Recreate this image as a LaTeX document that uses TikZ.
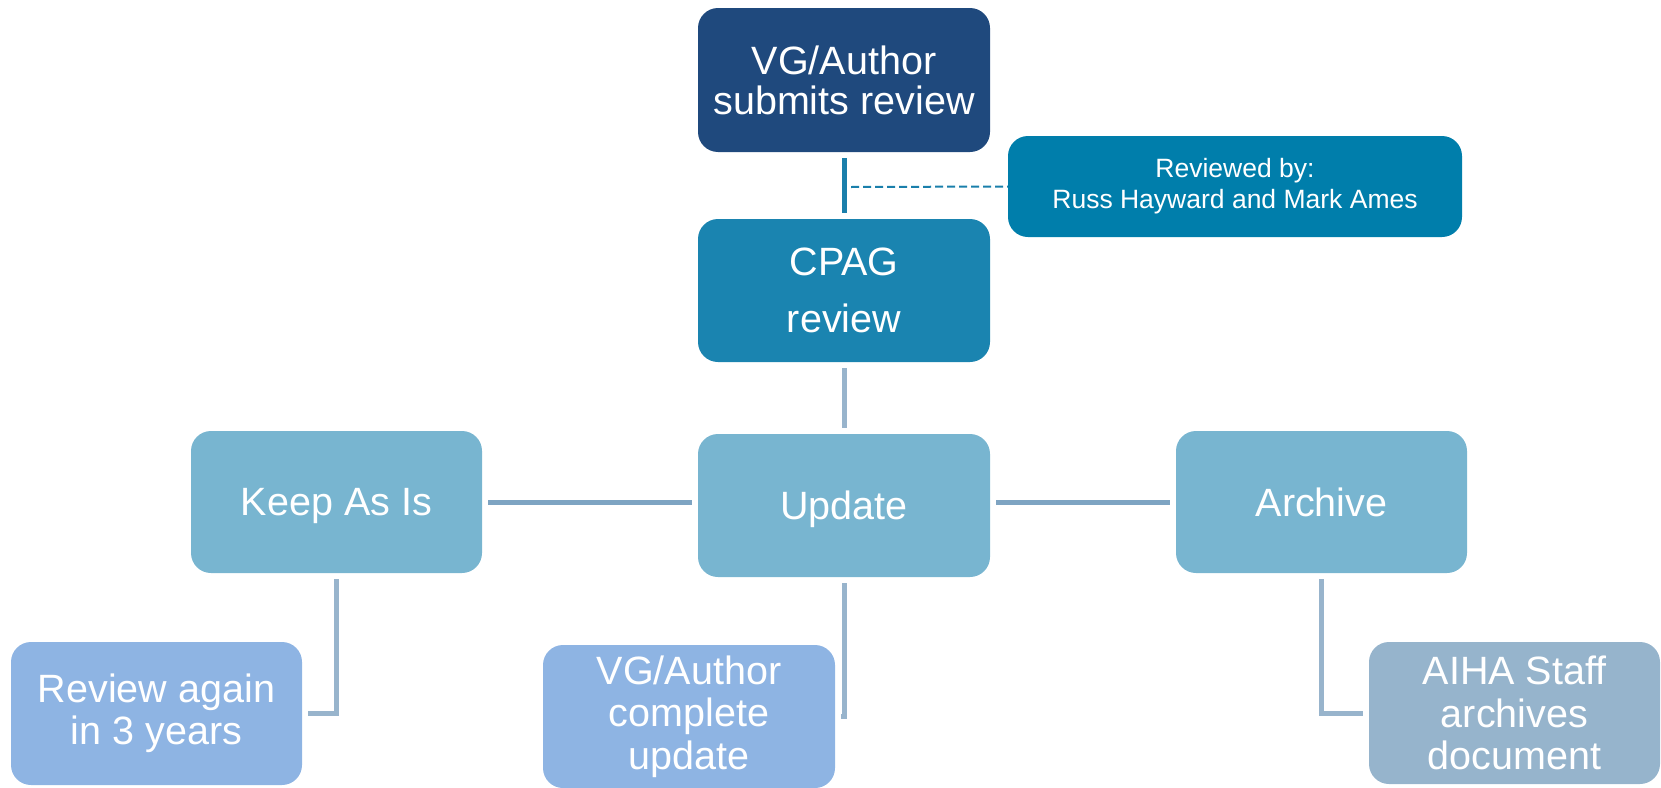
\documentclass[tikz,border=0pt]{standalone}
\usepackage{fontspec}
\setmainfont{Liberation Sans}
\definecolor{navy}{RGB}{31,73,125}
\definecolor{cpagc}{RGB}{26,132,176}
\definecolor{revc}{RGB}{0,126,171}
\definecolor{midc}{RGB}{120,181,208}
\definecolor{lowc}{RGB}{142,180,227}
\definecolor{aihac}{RGB}{150,180,204}
\definecolor{hline}{RGB}{126,164,194}
\definecolor{vline}{RGB}{152,180,204}
\definecolor{tealline}{RGB}{26,127,171}
\tikzset{
  box/.style={rounded corners=20pt, inner sep=0pt, text=white, align=center,
    font=\fontsize{39.5}{42.5}\selectfont},
  oneline/.style={text depth=0pt},
  conn/.style={line width=5pt, shorten <=6pt, shorten >=6pt},
}
\begin{document}
\begin{tikzpicture}[x=1pt,y=-1pt]
\useasboundingbox (0,0) rectangle (1661,787);
\node[box, fill=navy, minimum width=292pt, minimum height=144pt,
  font=\fontsize{39.5}{40}\selectfont] (top) at (844,80) {VG/Author\\submits review};
\node[box, fill=cpagc, minimum width=292pt, minimum height=143pt,
  font=\fontsize{39.5}{57}\selectfont] (cpag) at (844,290.5) {CPAG\\review};
\node[box, fill=revc, minimum width=454pt, minimum height=101pt,
  font=\fontsize{26.5}{31}\selectfont] (rev) at (1235,186.5) {Reviewed by:\\Russ Hayward and Mark Ames};
\node[box, oneline, fill=midc, minimum width=291pt, minimum height=142pt] (keep) at (336.5,502) {Keep As Is};
\node[box, oneline, fill=midc, minimum width=292pt, minimum height=143pt] (upd) at (844,505.5) {Update};
\node[box, oneline, fill=midc, minimum width=291pt, minimum height=142pt] (arch) at (1321.5,502) {Archive};
\node[box, fill=lowc, minimum width=291pt, minimum height=143pt] (again) at (156.5,713.5) {Review again\\in 3 years};
\node[box, fill=lowc, minimum width=292pt, minimum height=143pt] (vgc) at (689,716.5) {VG/Author\\complete\\update};
\node[box, fill=aihac, minimum width=291pt, minimum height=142pt] (aiha) at (1514.5,713) {AIHA Staff\\archives\\document};
% connectors
\draw[conn, tealline] (top.south) -- (cpag.north);
\coordinate (dashstart) at (851,187);
\draw[tealline, line width=2pt, dash pattern=on 8pt off 4pt] (dashstart) -- (rev.west);
\draw[conn, vline] (cpag.south) -- (upd.north);
\draw[conn, hline] (keep.east) -- (keep.east -| upd.west);
\draw[conn, hline] (upd.east |- arch.west) -- (arch.west);
\draw[conn, vline] (keep.south) |- (again.east);
\draw[conn, vline] (upd.south) |- (vgc.east);
\draw[conn, vline] (arch.south) |- (aiha.west);
\end{tikzpicture}
\end{document}
